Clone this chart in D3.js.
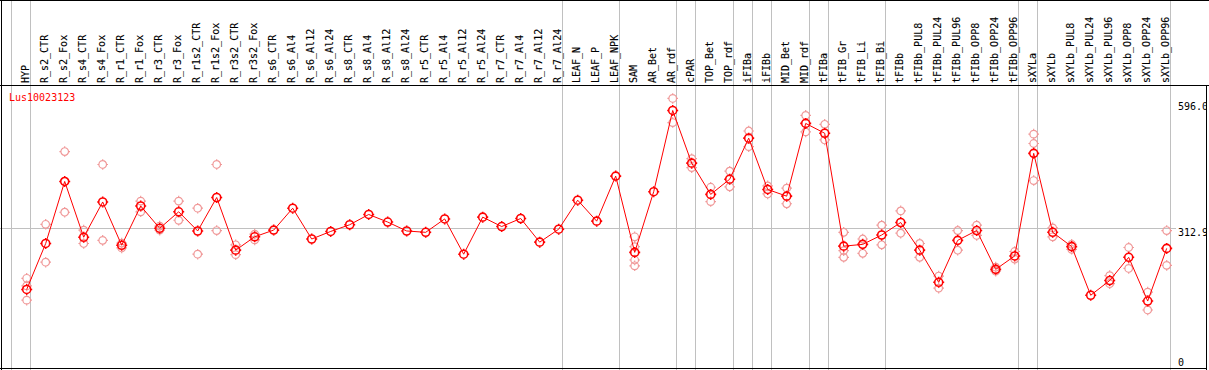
<!DOCTYPE html>
<html lang="en">
<head>
  <meta charset="utf-8" />
  <title>Lus10023123 expression</title>
  <style>
    body {
      margin: 0;
      padding: 0;
      background: #fff;
    }
    svg text {
      font-family: "DejaVu Sans Mono", monospace;
      font-size: 10px;
    }
    .grid {
      stroke: #c0c0c0;
      stroke-width: 1;
    }
    .frame {
      stroke: #000;
      stroke-width: 1;
    }
  </style>
  <script src="https://d3js.org/d3.v7.min.js"></script>
</head>
<body>
  <svg width="1209" height="370"></svg>
  <script>
    const gene = "Lus10023123";

    const samples = [
      "HYP", "R_s2_CTR", "R_s2_Fox", "R_s4_CTR", "R_s4_Fox", "R_r1_CTR", "R_r1_Fox",
      "R_r3_CTR", "R_r3_Fox", "R_r1s2_CTR", "R_r1s2_Fox", "R_r3s2_CTR", "R_r3s2_Fox",
      "R_s6_CTR", "R_s6_Al4", "R_s6_Al12", "R_s6_Al24", "R_s8_CTR", "R_s8_Al4",
      "R_s8_Al12", "R_s8_Al24", "R_r5_CTR", "R_r5_Al4", "R_r5_Al12", "R_r5_Al24",
      "R_r7_CTR", "R_r7_Al4", "R_r7_Al12", "R_r7_Al24", "LEAF_N", "LEAF_P", "LEAF_NPK",
      "SAM", "AR_Bet", "AR_rdf", "cPAR", "TOP_Bet", "TOP_rdf", "iFIBa", "iFIBb",
      "MID_Bet", "MID_rdf", "tFIBa", "tFIB_Gr", "tFIB_Li", "tFIB_Bi", "tFIBb",
      "tFIBb_PUL8", "tFIBb_PUL24", "tFIBb_PUL96", "tFIBb_OPP8", "tFIBb_OPP24",
      "tFIBb_OPP96", "sXYLa", "sXYLb", "sXYLb_PUL8", "sXYLb_PUL24", "sXYLb_PUL96",
      "sXYLb_OPP8", "sXYLb_OPP24", "sXYLb_OPP96"
    ];

    // mean expression per sample
    const means = [
      176, 279, 418, 293, 372, 275, 363, 313, 350, 307, 382, 264, 294,
      309, 358, 289, 306, 321, 344, 327, 307, 304, 334, 255, 338,
      317, 335, 282, 311, 376, 329, 430,
      259, 395, 577, 459, 389, 423, 515, 400,
      385, 548, 526, 273, 277, 298, 326,
      264, 192, 286, 308, 221, 251,
      481, 304, 272, 163, 196, 248, 150, 268
    ];

    // individual replicates (empty where only the mean is shown)
    const replicates = [
      [201, 184, 152], [322, 237], [485, 349], [309, 279], [456, 286], [280, 269], [374, 350],
      [318, 309], [374, 331], [358, 255], [456, 308], [276, 254], [300, 287],
      [], [], [], [], [], [], [], [], [], [], [], [],
      [], [], [], [], [], [], [],
      [294, 272, 242, 229], [], [604, 550], [469, 449], [405, 373], [441, 406], [531, 496], [408, 390],
      [403, 368], [566, 529], [546, 511], [304, 263, 248], [289, 257], [320, 276], [352, 302],
      [279, 248], [206, 179], [308, 264], [320, 297], [226, 217], [261, 244],
      [524, 503, 420], [314, 294], [277, 266], [], [207, 189], [270, 223], [170, 130], [308, 230]
    ];

    // vertical separators are drawn after these samples
    const groupEnds = ["HYP", "R_r7_Al24", "LEAF_NPK", "AR_rdf", "cPAR", "TOP_rdf", "iFIBa",
      "iFIBb", "MID_rdf", "tFIBa", "tFIB_Bi", "tFIBb_OPP96", "sXYLa", "sXYLb_OPP96"];

    const axisTicks = [596.0, 312.9, 0];
    const axisLabels = ["596.0", "312.9", "0"];

    const svg = d3.select("svg"),
          width = +svg.attr("width"),
          height = +svg.attr("height");

    const headerY = 85.5;
    const x = d3.scaleLinear().domain([0, samples.length - 1]).range([26.7, 1166.7]);
    const y = d3.scaleLinear().domain([0, 596]).range([368, 102]);

    svg.append("defs").append("clipPath").attr("id", "frameclip")
      .append("rect").attr("x", 0).attr("y", 0).attr("width", 1206).attr("height", height);

    // separators
    const sepX = [x(-1) + 3.7].concat(groupEnds.map(s => x(samples.indexOf(s)) + 3.7));
    svg.append("g")
      .selectAll("line")
      .data(sepX)
      .join("line")
      .attr("class", "grid")
      .attr("x1", d => Math.round(d) + 0.5)
      .attr("x2", d => Math.round(d) + 0.5)
      .attr("y1", 0)
      .attr("y2", height);

    // middle reference line
    svg.append("line")
      .attr("class", "grid")
      .attr("x1", 0).attr("x2", 1176)
      .attr("y1", Math.round(y(axisTicks[1])) + 0.5)
      .attr("y2", Math.round(y(axisTicks[1])) + 0.5);

    // frame
    const frame = svg.append("g").attr("class", "frame");
    frame.append("line").attr("x1", 0).attr("x2", width).attr("y1", 0.5).attr("y2", 0.5);
    frame.append("line").attr("x1", 0).attr("x2", width).attr("y1", headerY).attr("y2", headerY);
    frame.append("line").attr("x1", 1.5).attr("x2", 1.5).attr("y1", 0).attr("y2", height);
    frame.append("line").attr("x1", 0).attr("x2", 1207).attr("y1", 368.5).attr("y2", 368.5);
    frame.append("line").attr("x1", 1206.5).attr("x2", 1206.5).attr("y1", headerY).attr("y2", height);

    // sample labels (baseline snapped so the underscores land on one pixel column)
    svg.append("g")
      .selectAll("text")
      .data(samples)
      .join("text")
      .attr("transform", (d, i) => `translate(${Math.round(x(i) + 3) - 0.6},83) rotate(-90)`)
      .attr("fill", "#000")
      .attr("stroke", "#000")
      .attr("stroke-width", 0.12)
      .text(d => d);

    // right axis labels
    svg.append("g")
      .attr("clip-path", "url(#frameclip)")
      .selectAll("text")
      .data(axisTicks)
      .join("text")
      .attr("x", 1178)
      .attr("y", d => Math.min(y(d) + 7.5, 365.5))
      .attr("fill", "#000")
      .text((d, i) => axisLabels[i]);

    svg.append("text")
      .attr("x", 9)
      .attr("y", 100.5)
      .attr("fill", "#ff0000")
      .text(gene);

    // marker: circle with small ticks at 4 sides
    function marker(cx, cy, r) {
      const t = 1.5;
      return `M${cx + r},${cy}A${r},${r} 0 1,1 ${cx - r},${cy}A${r},${r} 0 1,1 ${cx + r},${cy}` +
        `M${cx},${cy - r - t}V${cy - r}M${cx},${cy + r}V${cy + r + t}` +
        `M${cx - r - t},${cy}H${cx - r}M${cx + r},${cy}H${cx + r + t}`;
    }

    const reps = replicates.flatMap((vals, i) => vals.map(v => ({ i, v })));
    svg.append("g")
      .selectAll("path")
      .data(reps)
      .join("path")
      .attr("d", d => marker(x(d.i), y(d.v), 3.8))
      .attr("fill", "none")
      .attr("stroke", "#f09898")
      .attr("stroke-width", 1.2);

    const line = d3.line()
      .x((d, i) => x(i))
      .y(d => y(d));

    svg.append("path")
      .datum(means)
      .attr("d", line)
      .attr("fill", "none")
      .attr("stroke", "#ff0000")
      .attr("stroke-width", 1);

    svg.append("g")
      .selectAll("path")
      .data(means)
      .join("path")
      .attr("d", (d, i) => marker(x(i), y(d), 4))
      .attr("fill", "none")
      .attr("stroke", "#ff0000")
      .attr("stroke-width", 1.6);
  </script>
</body>
</html>
